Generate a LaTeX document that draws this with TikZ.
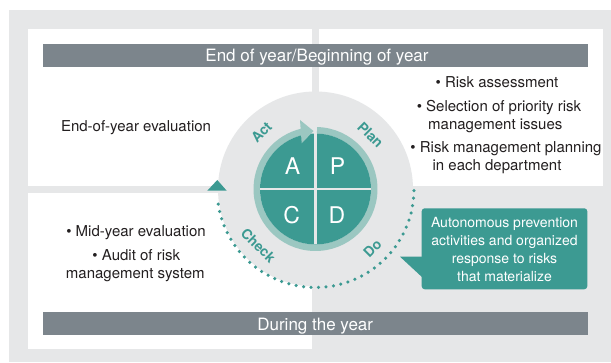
\documentclass[tikz,border=0pt]{standalone}
\usepackage{fontspec}
\setmainfont{TeX Gyre Heros}
\usetikzlibrary{calc}
\definecolor{bggray}{HTML}{E6E7E8}
\definecolor{bargray}{HTML}{7C858C}
\definecolor{tealc}{HTML}{3C9A92}
\definecolor{ringc}{HTML}{9BC7C1}
\definecolor{txtdark}{HTML}{231F20}
\begin{document}
\begin{tikzpicture}[x=1pt,y=1pt,
  body/.style={font=\fontsize{15}{18}\selectfont, text=txtdark, inner sep=0pt, anchor=base},
  bartext/.style={font=\fontsize{17}{20}\selectfont, text=white, inner sep=0pt, anchor=base},
  calltext/.style={font=\fontsize{14}{18}\selectfont, text=white, inner sep=0pt, anchor=base},
  letter/.style={font=\fontsize{23}{26}\selectfont, text=white, inner sep=0pt, anchor=base},
  phase/.style={font=\bfseries\fontsize{14}{16}\selectfont, text=tealc, inner sep=0pt},
  panel/.style={fill=white, draw=none},
  bar/.style={fill=bargray, draw=none}]
\useasboundingbox (0,0) rectangle (611,362);
% background
\fill[bggray] (9,0) rectangle (611,352);
% white panels
\fill[white] (28,176) rectangle (312,333);
\fill[white] (319,176) rectangle (603,333);
\fill[white] (28,13) rectangle (312,169);
% bars
\fill[bargray] (43,295.3) rectangle (588,318);
\fill[bargray] (43,27) rectangle (588,50.3);
\node[bartext] (ttop) at (317,300) {End of year/Beginning of year};
\node[bartext] (tbot) at (315.2,32) {During the year};
% big circle
\coordinate (C) at (315.5,173);
\fill[bggray] (C) circle[radius=97.5];
% ring
\draw[ringc, line width=6.5] (C) ++(88.5:58.75) arc[start angle=88.5, end angle=-257, radius=58.75];
% dark disc
\fill[tealc] (C) circle[radius=55.5];
\draw[bggray, line width=2.5] ($(C)+(-55.5,0)$) -- ($(C)+(55.5,0)$);
\draw[bggray, line width=2.5] ($(C)+(0,-55.5)$) -- ($(C)+(0,55.5)$);
% arrowhead of ring
\fill[ringc] (300,242) -- (313.5,231) -- (301.7,218.7) -- cycle;
% letters
\node[letter] (A) at (292.5,187) {A};
\node[letter] (P) at (337.5,187) {P};
\node[letter] (Cc) at (291.7,138.5) {C};
\node[letter] (D) at (337,138.5) {D};
% phase labels
\node[phase, rotate=45] (act) at (261.5,229.5) {Act};
\node[phase, rotate=-45] (plan) at (370.5,227) {Plan};
\node[phase, rotate=-45] (check) at (258.3,116.5) {Check};
\node[phase, rotate=45] (do) at (372.5,113.5) {Do};
% dotted arc
\coordinate (ds) at ($(C)+(-1:98.5)$);
\draw[tealc, line width=3.5, line cap=round, dash pattern=on 0pt off 7.5pt] (ds) arc[start angle=-1, end angle=-175, radius=98.5];
\fill[tealc] (207.3,171.3) -- (226.7,171.3) -- (217.3,182) -- cycle;
% texts
\node[body] (eoy) at (136,230.3) {End-of-year evaluation};
\node[body] (r1) at (497,274) {• Risk assessment};
\node[body] (r2) at (499,250) {• Selection of priority risk};
\node[body] (r3) at (495.3,232) {management issues};
\node[body] (r4) at (506,209) {• Risk management planning};
\node[body] (r5) at (497,191) {in each department};
\node[body] (l1) at (136,125) {• Mid-year evaluation};
\node[body] (l2) at (136.3,101) {• Audit of risk};
\node[body] (l3) at (135.3,84) {management system};
% callout
\fill[tealc, rounded corners=3] (421.7,72.7) rectangle (587.3,153.7);
\fill[tealc] (400,105.3) -- (423,105.3) -- (423,84) -- cycle;
\node[calltext] (c1) at (504.5,135) {Autonomous prevention};
\node[calltext] (c2) at (504.5,116.7) {activities and organized};
\node[calltext] (c3) at (504.5,98.4) {response to risks};
\node[calltext] (c4) at (504.5,80.1) {that materialize};
\end{tikzpicture}
\end{document}
